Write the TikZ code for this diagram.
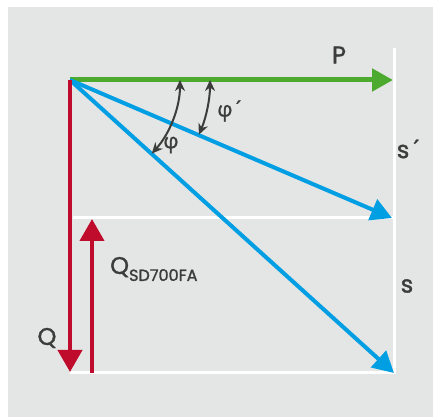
\documentclass[tikz,border=0pt]{standalone}
\usepackage{fontspec}
\setmainfont{Poppins}[FakeBold=1.5]
\newfontfamily\greekfont{Open Sans}[FakeBold=1]
\usetikzlibrary{arrows.meta,calc}
\definecolor{bggray}{RGB}{228,229,229}
\definecolor{pgreen}{RGB}{76,170,46}
\definecolor{sblue}{RGB}{0,158,226}
\definecolor{qred}{RGB}{192,12,44}
\definecolor{txtgray}{RGB}{60,60,59}

\begin{document}
\begin{tikzpicture}[x=1pt, y=1pt,
    force/.style={line width=4pt, -{Triangle[length=21pt, width=22pt]}},
    guide/.style={white, line width=3pt},
    angle/.style={txtgray, line width=2pt, {Stealth[length=11pt, width=10pt]}-{Stealth[length=11pt, width=10pt]}},
    lbl/.style={txtgray, font=\fontsize{24}{28}\selectfont, inner sep=0pt}]
    \useasboundingbox (0,0) rectangle (433,417);
    \fill[bggray] (8,0) rectangle (433,410);
    % corner points
    \coordinate (O) at (70,337);
    \coordinate (P) at (393,337);
    \coordinate (S1) at (392,199);
    \coordinate (S2) at (394,44);
    \coordinate (Q) at (70,45);
    \coordinate (Qa) at (92,44);
    \coordinate (Qb) at (92,198);
    % white guides
    \draw[guide] (394,369) -- (394,43);
    \draw[guide] (73,199) -- (395,199);
    \draw[guide] (70,44) -- (395,44);
    % forces
    \draw[force, pgreen, line width=5pt] (O) -- (P);
    \foreach \s in {S1,S2}
      \draw[force, sblue] (O) -- (\s);
    \draw[force, qred, -{Triangle[length=22pt, width=24pt]}] (O) -- (Q);
    \draw[force, qred, -{Triangle[length=22pt, width=24pt]}] (Qa) -- (Qb);
    % angles
    \draw[angle] ($(O)+(0:110)$) arc[start angle=0, end angle=-42, radius=110];
    \draw[angle] ($(O)+(0:140)$) arc[start angle=0, end angle=-23, radius=140];
    % labels
    \node[lbl] (lP) at (339,362) {P};
    \node[lbl] (lsp) at (410,268) {s\greekfont´};
    \node[lbl] (ls) at (407,131) {s};
    \node[lbl] (lQ) at (47,79) {Q};
    \node[lbl, anchor=west] (lQsd) at (110,148) {Q\raisebox{-7pt}{\fontsize{16}{19}\selectfont SD700FA}};
    \node[lbl, font=\greekfont\fontsize{21}{25}\selectfont] (lphi) at (171,272) {φ};
    \node[lbl, font=\greekfont\fontsize{21}{25}\selectfont] (lphip) at (231,306) {φ´};
\end{tikzpicture}
\end{document}
